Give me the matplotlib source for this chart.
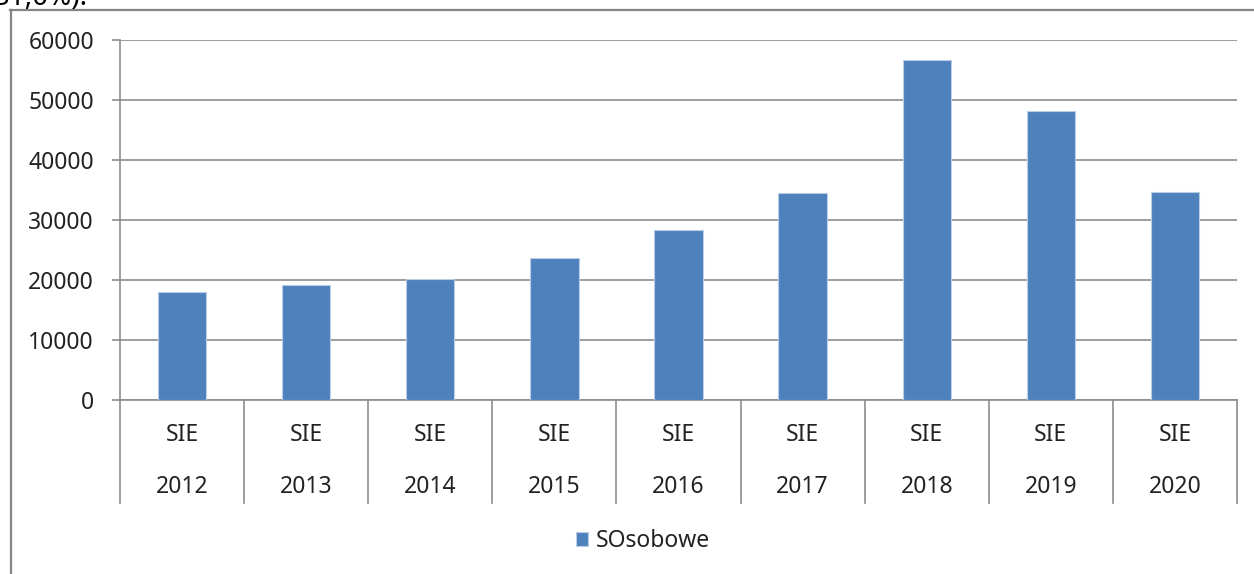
# Wykres słupkowy SOsobowe w latach 2012-2020 (styl Excela)
import numpy as np
from matplotlib import pyplot as plt
from matplotlib.lines import Line2D

# dane
lata = ["2012", "2013", "2014", "2015", "2016", "2017", "2018", "2019", "2020"]
grupa = ["SIE"] * len(lata)
sosobowe = [18000, 19100, 20100, 23600, 28300, 34550, 56650, 48100, 34700]
yticks = [0, 10000, 20000, 30000, 40000, 50000, 60000]

W, H = 1254, 574
plt.rcParams['font.family'] = ['Noto Sans', 'DejaVu Sans']
fs = 16.5
fig = plt.figure(figsize=(W / 100, H / 100), dpi=100)
fig.patch.set_facecolor("white")

# obszar wykresu (w pikselach)
x0, x1, ytop, ybot = 120, 1237, 40, 400
ax = fig.add_axes([x0 / W, 1 - ybot / H, (x1 - x0) / W, (ybot - ytop) / H])

xx = np.arange(len(lata))
ax.bar(xx, sosobowe, width=0.39, color="#4F81BD", edgecolor="#B9CDE5",
       linewidth=0.8, label="SOsobowe", zorder=3)

ax.set_xlim(-0.5, len(lata) - 0.5)
ax.set_ylim(0, 60000)
ax.set_yticks(yticks)
ax.set_yticklabels([str(v) for v in yticks], fontsize=fs, color="#222222")
ax.tick_params(axis="y", length=5.8, width=1.2, color="#8C8C8C", pad=13)
ax.set_xticks([])
ax.grid(axis="y", color="#8C8C8C", linewidth=1.2, zorder=0)
for s in ["top", "right"]:
    ax.spines[s].set_visible(False)
for s in ["left", "bottom"]:
    ax.spines[s].set_color("#8C8C8C")
    ax.spines[s].set_linewidth(1.2)

# wielopoziomowa oś kategorii
trans = ax.get_xaxis_transform()
dol = -103 / (ybot - ytop)
for i in range(len(lata) + 1):
    ax.plot([i - 0.5, i - 0.5], [0, dol], transform=trans, color="#8C8C8C",
            linewidth=1.2, clip_on=False)
for i in range(len(lata)):
    ax.text(i, -35 / (ybot - ytop), grupa[i], transform=trans, ha="center",
            va="center", fontsize=fs, color="#222222")
    ax.text(i, -87 / (ybot - ytop), lata[i], transform=trans, ha="center",
            va="center", fontsize=fs, color="#222222")

# legenda
fig.legend(loc="center left", bbox_to_anchor=(555 / W, 1 - 541 / H), frameon=False,
           fontsize=fs, handlelength=0.55, handleheight=0.55, handletextpad=0.35,
           labelcolor="#222222")

# ramka wykresu (przycięta)
fig.add_artist(Line2D([10.5 / W, 10.5 / W], [0, 1 - 10 / H], transform=fig.transFigure,
                      color="#868686", linewidth=1.6))
fig.add_artist(Line2D([10 / W, 1], [1 - 10 / H, 1 - 10 / H], transform=fig.transFigure,
                      color="#868686", linewidth=1.6))

# ucięty tekst nad wykresem
fig.text(-6 / W, 1 - 5 / H, "31,0%).", fontsize=20, color="black", va="baseline")

plt.savefig("out.png", dpi=100)
